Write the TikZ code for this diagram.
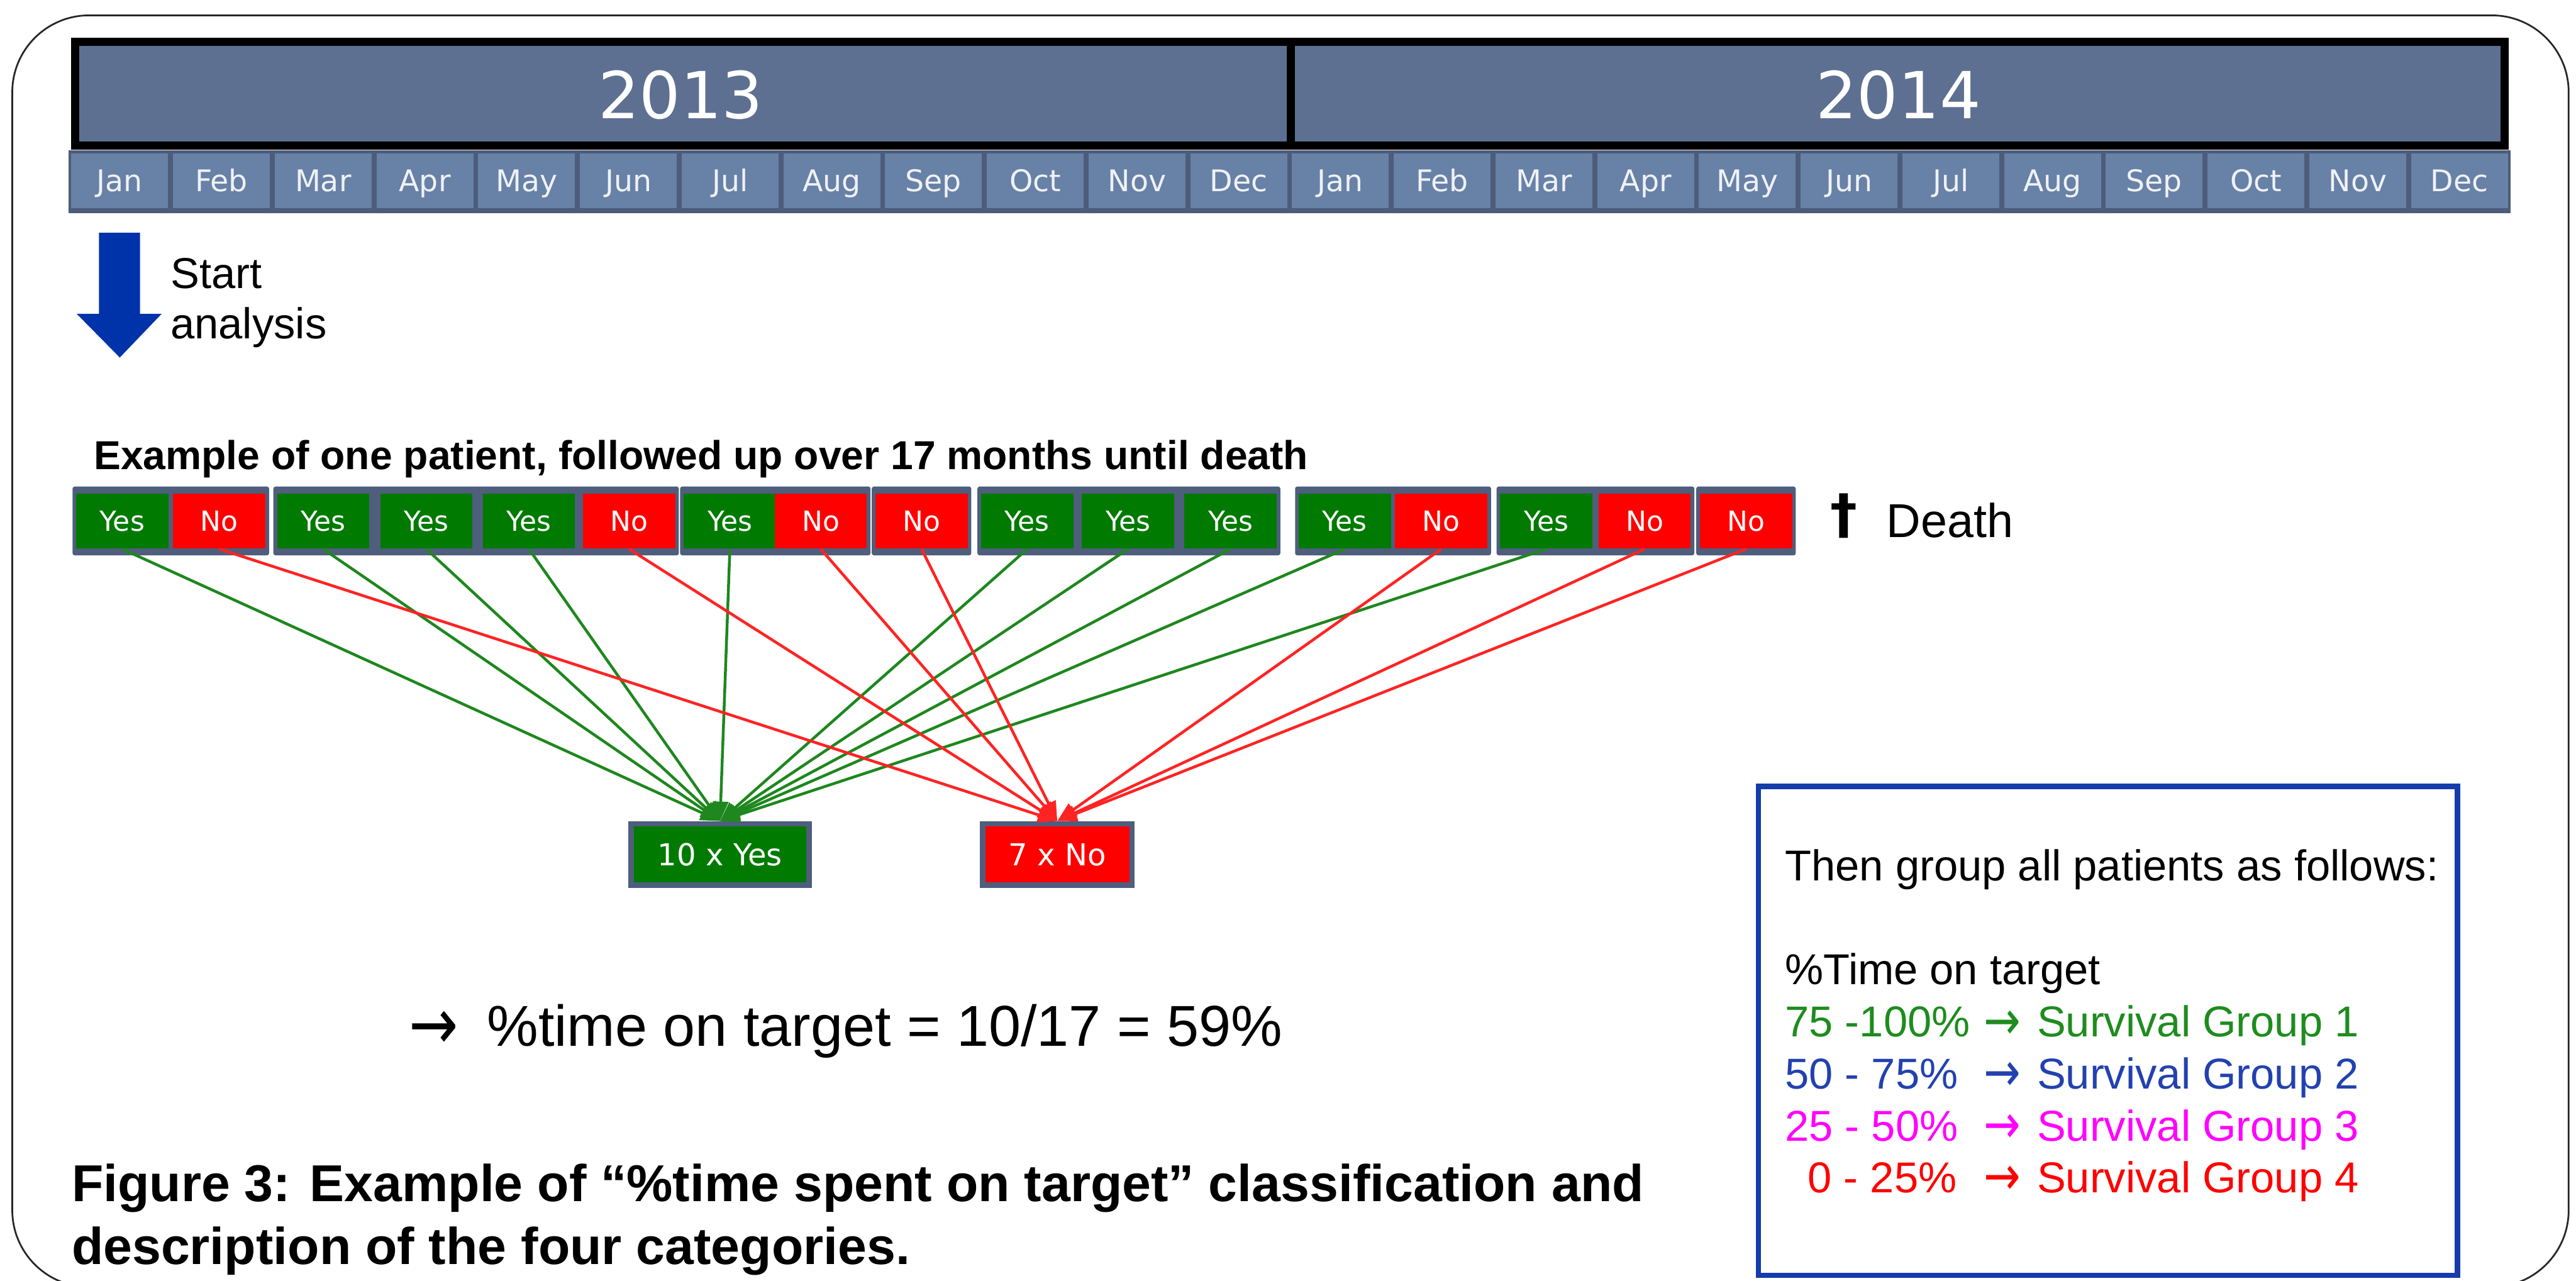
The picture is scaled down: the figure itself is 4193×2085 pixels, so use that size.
\documentclass[tikz,border=0pt]{standalone}
\usepackage{fontspec}
\usepackage{graphicx}
\setmainfont{Liberation Sans}
\newfontfamily\tah{DejaVu Sans}
\usetikzlibrary{arrows.meta}
\newcommand{\rarr}{\raisebox{-0.05em}{\scalebox{1.02}[1.25]{\tah →}}}
\definecolor{yearfill}{RGB}{93,112,146}
\definecolor{monthfill}{RGB}{104,129,166}
\definecolor{monthdark}{RGB}{76,92,122}
\definecolor{slate}{RGB}{78,94,124}
\definecolor{cellgreen}{RGB}{0,122,0}
\definecolor{cellred}{RGB}{255,0,0}
\definecolor{linegreen}{RGB}{30,135,30}
\definecolor{linered}{RGB}{255,35,35}
\definecolor{startblue}{RGB}{0,51,170}
\definecolor{boxblue}{RGB}{20,60,170}
\definecolor{grpone}{RGB}{30,140,30}
\definecolor{grptwo}{RGB}{35,65,175}
\definecolor{grpthree}{RGB}{255,0,255}
\definecolor{grpfour}{RGB}{255,0,0}
\definecolor{monthtext}{RGB}{238,241,246}
\begin{document}
\begin{tikzpicture}[x=0.01cm,y=-0.01cm,
  monthcell/.style={fill=monthfill, minimum width=1.576cm, minimum height=0.89cm, inner sep=0pt,
    text=monthtext, font=\tah\fontsize{13.8}{15}\selectfont, text height=10pt, text depth=0pt},
  cellbase/.style={minimum width=1.50cm, minimum height=0.89cm, inner sep=0pt, text=white,
    font=\tah\fontsize{12.8}{14}\selectfont, text height=9.3pt, text depth=0pt},
  yescell/.style={cellbase, fill=cellgreen},
  nocell/.style={cellbase, fill=cellred},
  bigbox/.style={draw=slate, line width=2.56pt, minimum height=1cm, inner sep=0pt, text=white,
    font=\tah\fontsize{14}{16}\selectfont, text height=10.2pt, text depth=0pt},
  gline/.style={draw=linegreen, line width=1.3pt, -{Triangle[length=9pt,width=7pt]}},
  rline/.style={draw=linered, line width=1.3pt, -{Triangle[length=9pt,width=7pt]}},
  txt/.style={anchor=base west, inner sep=0pt, font=\fontsize{20}{24}\selectfont},
]
\useasboundingbox (0,0) rectangle (4193,2085);
% outer frame
\draw[black!85, line width=0.8pt, rounded corners=1.25cm] (20,25) rectangle (4181,2095);
% year bar
\draw[fill=yearfill, line width=3.7pt] (122,68) rectangle (2101,237);
\draw[fill=yearfill, line width=3.7pt] (2101,68) rectangle (4077,237);
\node[anchor=base, inner sep=0pt, text=white, font=\tah\fontsize{30}{34}\selectfont] (y2013) at (1108,193) {2013};
\node[anchor=base, inner sep=0pt, text=white, font=\tah\fontsize{30}{34}\selectfont] (y2014) at (3090,193) {2014};
% month row
\fill[monthdark] (112,245) rectangle (4086,347);
\foreach \m [count=\i from 0] in {Jan,Feb,Mar,Apr,May,Jun,Jul,Aug,Sep,Oct,Nov,Dec,Jan,Feb,Mar,Apr,May,Jun,Jul,Aug,Sep,Oct,Nov,Dec}
  \node[monthcell] (m\i) at ({112+165.583*(\i+0.5)},294) {\m};
% start analysis arrow
\fill[startblue] (161,379) -- (228,379) -- (228,511) -- (263,511) -- (195,582) -- (125,511) -- (161,511) -- cycle;
\node[txt] (start) at (277,469) {Start};
\node[txt] (analysis) at (277,551) {analysis};
% heading
\node[anchor=base west, inner sep=0pt, font=\bfseries\fontsize{18.7}{22}\selectfont] (heading) at (152,764) {Example of one patient, followed up over 17 months until death};
% group frames
\foreach \a/\b in {199/357,526/1024,1188/1336,1500/1500,1672/2003,2189/2346,2517/2677,2842/2842}
  \fill[slate, rounded corners=1pt] (\a-81,792) rectangle (\b+81,904);
% cells
\node[yescell] (c0) at (199,848.5) {Yes};
\node[nocell]  (c1) at (357,848.5) {No};
\node[yescell] (c2) at (526,848.5) {Yes};
\node[yescell] (c3) at (694,848.5) {Yes};
\node[yescell] (c4) at (861,848.5) {Yes};
\node[nocell]  (c5) at (1024,848.5) {No};
\node[yescell] (c6) at (1188,848.5) {Yes};
\node[nocell]  (c7) at (1336,848.5) {No};
\node[nocell]  (c8) at (1500,848.5) {No};
\node[yescell] (c9) at (1672,848.5) {Yes};
\node[yescell] (c10) at (1836,848.5) {Yes};
\node[yescell] (c11) at (2003,848.5) {Yes};
\node[yescell] (c12) at (2189,848.5) {Yes};
\node[nocell]  (c13) at (2346,848.5) {No};
\node[yescell] (c14) at (2517,848.5) {Yes};
\node[nocell]  (c15) at (2677,848.5) {No};
\node[nocell]  (c16) at (2842,848.5) {No};
% death
\node[anchor=base east, inner sep=0pt, font=\tah\bfseries\fontsize{25}{28}\selectfont] (dagger) at (3024,868) {†};
\node[txt, font=\fontsize{22}{26}\selectfont] (death) at (3070,875) {Death};
% count boxes
\node[bigbox, fill=cellgreen, minimum width=2.90cm] (yesbox) at (1172,1391) {10 x Yes};
\node[bigbox, fill=cellred, minimum width=2.43cm] (nobox) at (1721,1391) {7 x No};
% connectors
\foreach \k in {0,2,3,4,6,9,10,11,12,14}
  \draw[gline] (c\k.south) -- (yesbox.north);
\foreach \k in {1,5,7,8,13,15,16}
  \draw[rline] (c\k.south) -- (nobox.north);
% result
\node[txt, font=\fontsize{26.7}{30}\selectfont] (result) at (665,1703) {\rarr\hspace{0.5em}\%time on target = 10/17 = 59\%};
% caption
\node[txt, font=\bfseries\fontsize{24}{28}\selectfont] (cap1) at (116,1956) {Figure 3: Example of “\%time spent on target” classification and};
\node[txt, font=\bfseries\fontsize{24}{28}\selectfont] (cap2) at (116,2058) {description of the four categories.};
% grouping box
\draw[boxblue, line width=2.5pt] (2862,1280) rectangle (4000,2076);
\node[txt] (then) at (2905,1434) {Then group all patients as follows:};
\node[txt] (pttl) at (2905,1603) {\%Time on target};
\node[txt, text=grpone] (r1) at (2905,1688) {75 -100\%};
\node[txt, text=grpone] (a1) at (3228,1688) {\rarr};
\node[txt, text=grpone] (s1) at (3315,1688) {Survival Group 1};
\node[txt, text=grptwo] (r2) at (2905,1772) {50 - 75\%};
\node[txt, text=grptwo] (a2) at (3228,1772) {\rarr};
\node[txt, text=grptwo] (s2) at (3315,1772) {Survival Group 2};
\node[txt, text=grpthree] (r3) at (2905,1857) {25 - 50\%};
\node[txt, text=grpthree] (a3) at (3228,1857) {\rarr};
\node[txt, text=grpthree] (s3) at (3315,1857) {Survival Group 3};
\node[txt, text=grpfour] (r4) at (2942,1941) {0 - 25\%};
\node[txt, text=grpfour] (a4) at (3228,1941) {\rarr};
\node[txt, text=grpfour] (s4) at (3315,1941) {Survival Group 4};
\end{tikzpicture}
\end{document}
